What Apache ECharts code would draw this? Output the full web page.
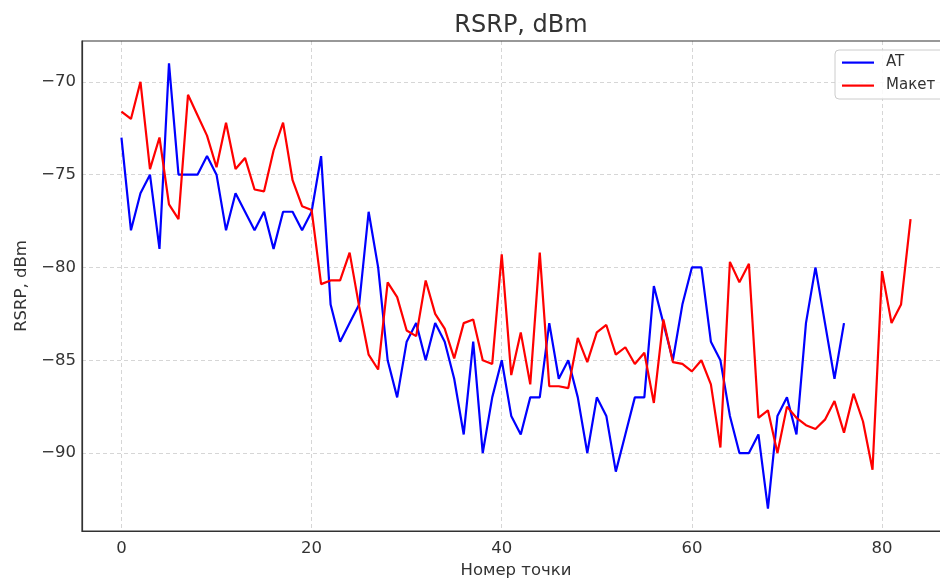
<!DOCTYPE html>
<html>
<head>
<meta charset="utf-8">
<script src="https://cdn.jsdelivr.net/npm/echarts@6/dist/echarts.min.js"></script>
<style>
html,body{margin:0;padding:0;background:#fff;}
#chart{width:940px;height:580px;}
</style>
</head>
<body>
<div id="chart"></div>
<script>
const titleText = 'RSRP, dBm';
const xAxisName = 'Номер точки';
const yAxisName = 'RSRP, dBm';
const seriesNames = ['AT', 'Макет'];

const atValues = [
  -73, -78, -76, -75, -79, -69, -75, -75, -75, -74,
  -75, -78, -76, -77, -78, -77, -79, -77, -77, -78,
  -77, -74, -82, -84, -83, -82, -77, -80, -85, -87,
  -84, -83, -85, -83, -84, -86, -89, -84, -90, -87,
  -85, -88, -89, -87, -87, -83, -86, -85, -87, -90,
  -87, -88, -91, -89, -87, -87, -81, -83, -85, -82,
  -80, -80, -84, -85, -88, -90, -90, -89, -93, -88,
  -87, -89, -83, -80, -83, -86, -83
];

const maketValues = [
  -71.6, -72.0, -70.0, -74.7, -73.0, -76.6, -77.4, -70.7, -71.8, -72.9,
  -74.6, -72.2, -74.7, -74.1, -75.8, -75.9, -73.7, -72.2, -75.3, -76.7,
  -76.9, -80.9, -80.7, -80.7, -79.2, -82.1, -84.7, -85.5, -80.8, -81.6,
  -83.4, -83.7, -80.7, -82.5, -83.3, -84.9, -83.0, -82.8, -85.0, -85.2,
  -79.3, -85.8, -83.5, -86.3, -79.2, -86.4, -86.4, -86.5, -83.8, -85.1,
  -83.5, -83.1, -84.7, -84.3, -85.2, -84.6, -87.3, -82.8, -85.1, -85.2,
  -85.6, -85.0, -86.3, -89.7, -79.7, -80.8, -79.8, -88.1, -87.7, -90.0,
  -87.5, -88.1, -88.5, -88.7, -88.2, -87.2, -88.9, -86.8, -88.3, -90.9,
  -80.2, -83.0, -82.0, -77.4
];

const xTicks = [0, 20, 40, 60, 80];
const yTicks = [-90, -85, -80, -75, -70];

const toPairs = arr => arr.map((v, i) => [i, v]);
const fmt = v => String(v).replace('-', '\u2212');
const FONT = 'DejaVu Sans';
const legendIcon = 'path://M0,0 M32,14 M0,6 L32,6 L32,8.2 L0,8.2 Z';

const chart = echarts.init(document.getElementById('chart'), null, {renderer: 'canvas'});
chart.setOption({
  animation: false,
  backgroundColor: '#ffffff',
  textStyle: {fontFamily: FONT},
  title: {
    text: titleText,
    left: 516,
    textAlign: 'center',
    top: 9,
    textStyle: {fontFamily: FONT, fontSize: 24, fontWeight: 'normal', color: '#333'}
  },
  legend: {
    orient: 'vertical',
    left: 835,
    top: 50,
    padding: [5, 60, 6, 7],
    itemWidth: 32,
    itemHeight: 14,
    itemGap: 8,
    backgroundColor: 'rgba(255,255,255,0.85)',
    borderColor: '#cccccc',
    borderWidth: 1,
    borderRadius: 4,
    textStyle: {fontFamily: FONT, fontSize: 15, color: '#333', padding: [0, 0, 0, 7]},
    data: [
      {name: seriesNames[0], icon: legendIcon},
      {name: seriesNames[1], icon: legendIcon}
    ]
  },
  grid: {
    show: true,
    z: 3,
    left: 82,
    top: 41,
    width: 868,
    height: 490,
    outerBoundsMode: 'none',
    containLabel: false,
    backgroundColor: 'transparent',
    borderColor: '#333',
    borderWidth: 1.2
  },
  xAxis: {
    type: 'value',
    min: -4.15,
    max: 87.15,
    name: xAxisName,
    nameLocation: 'middle',
    nameGap: 29,
    nameTextStyle: {fontFamily: FONT, fontSize: 16.5, color: '#333'},
    axisLine: {show: true, onZero: false, lineStyle: {color: '#333', width: 1.2}},
    axisTick: {show: false, customValues: xTicks},
    axisLabel: {
      customValues: xTicks,
      margin: 9,
      fontFamily: FONT, fontSize: 16.5, color: '#333',
      formatter: fmt
    },
    splitLine: {show: true, lineStyle: {color: '#cccccc', type: [4, 3], width: 0.8}}
  },
  yAxis: {
    type: 'value',
    min: -94.2,
    max: -67.8,
    name: yAxisName,
    nameLocation: 'middle',
    nameGap: 52,
    nameRotate: 90,
    nameTextStyle: {fontFamily: FONT, fontSize: 16.5, color: '#333'},
    axisLine: {show: true, onZero: false, lineStyle: {color: '#333', width: 1.2}},
    axisTick: {show: false, customValues: yTicks},
    axisLabel: {
      customValues: yTicks,
      margin: 6,
      fontFamily: FONT, fontSize: 16.5, color: '#333',
      formatter: fmt
    },
    splitLine: {show: true, lineStyle: {color: '#cccccc', type: [4, 3], width: 0.8}}
  },
  series: [
    {
      name: seriesNames[0],
      type: 'line',
      data: toPairs(atValues),
      symbol: 'none',
      color: '#0000ff',
      lineStyle: {color: '#0000ff', width: 2.2},
      z: 2
    },
    {
      name: seriesNames[1],
      type: 'line',
      data: toPairs(maketValues),
      symbol: 'none',
      color: '#ff0000',
      lineStyle: {color: '#ff0000', width: 2.2},
      z: 2
    }
  ]
});
</script>
</body>
</html>
